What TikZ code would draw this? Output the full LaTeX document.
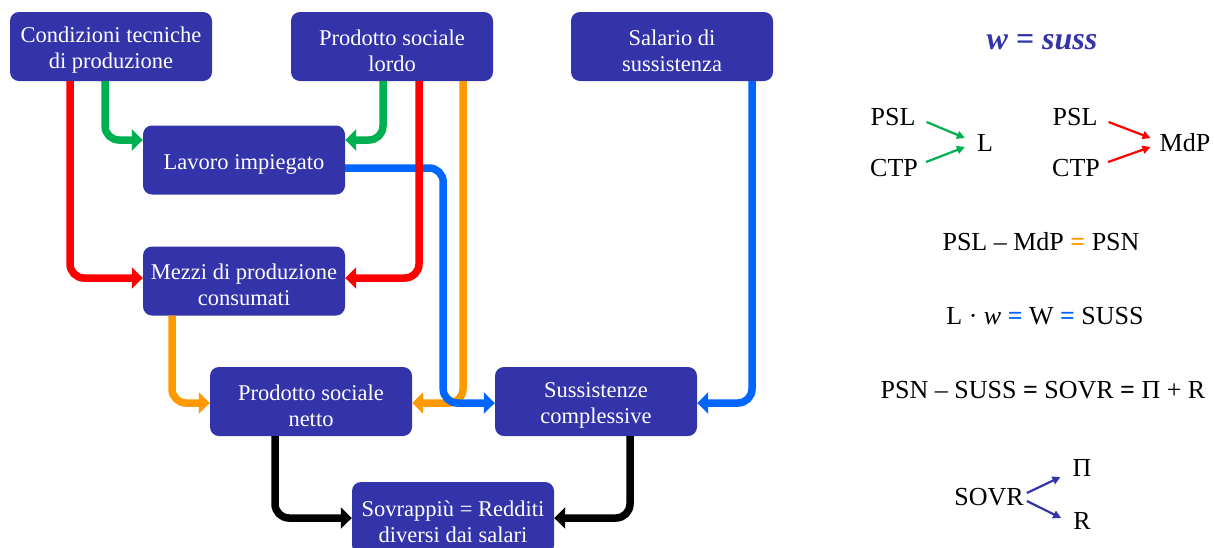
\documentclass[tikz,border=0pt]{standalone}
\usepackage{fontspec}
\setmainfont{Liberation Serif}
\usetikzlibrary{arrows.meta}
\definecolor{boxblue}{RGB}{51,51,170}
\definecolor{lgreen}{RGB}{0,176,80}
\definecolor{lorange}{RGB}{255,153,0}
\definecolor{lblue}{RGB}{0,102,255}
\newcommand{\topgap}{\rule{0pt}{23.5pt}}

\begin{document}
\begin{tikzpicture}[x=1pt,y=-1pt,
  box node/.style={rectangle,rounded corners=9pt,fill=boxblue,text=white,minimum width=202pt,minimum height=69pt,align=center,inner sep=2pt,font=\fontsize{22.5}{26}\selectfont},
  flow/.style={line width=7.5pt,rounded corners=14pt,-{Triangle[length=11pt,width=21pt]}},
  eq node/.style={inner sep=0pt,font=\fontsize{26}{28}\selectfont},
  small arrow/.style={line width=2.2pt,-{Triangle[length=8pt,width=8pt]}}]
  \useasboundingbox (0,0) rectangle (1214,547);

  % boxes
  \node[box node] (ctp) at (111,46.5) {\topgap Condizioni tecniche\\di produzione};
  \node[box node] (psl) at (392,46.5) {\topgap Prodotto sociale\\lordo};
  \node[box node] (sal) at (672,46.5) {\topgap Salario di\\sussistenza};
  \node[box node] (lav) at (244,160) {\rule{0pt}{23pt}Lavoro impiegato};
  \node[box node] (mez) at (244,281) {\topgap Mezzi di produzione\\consumati};
  \node[box node] (psn) at (311,401.5) {\topgap Prodotto sociale\\netto};
  \node[box node] (sus) at (596,401.5) {\topgap Sussistenze\\complessive};
  \node[box node,minimum height=72pt] (sov) at (453,518) {\topgap Sovrappiù = Redditi\\diversi dai salari};

  % flows
  \draw[flow,lorange] ([xshift=71pt]psl.south) |- ([yshift=-1.5pt]psn.east);
  \draw[flow,lorange] ([xshift=-72pt]mez.south) |- ([yshift=-1.5pt]psn.west);
  \draw[flow,lblue] ([yshift=-8pt]lav.east) -- ++(98,0) |- ([yshift=-1.5pt]sus.west);
  \draw[flow,lblue] ([xshift=80pt]sal.south) |- ([yshift=-1.5pt]sus.east);
  \draw[flow,red] ([xshift=-41pt]ctp.south) |- ([yshift=3pt]mez.west);
  \draw[flow,red] ([xshift=27pt]psl.south) |- ([yshift=3pt]mez.east);
  \draw[flow,lgreen] ([xshift=-6pt]ctp.south) |- ([yshift=20pt]lav.west);
  \draw[flow,lgreen] ([xshift=-9pt]psl.south) |- ([yshift=20pt]lav.east);
  \draw[flow,black] ([xshift=-36pt]psn.south) |- (sov.west);
  \draw[flow,black] ([xshift=34pt]sus.south) |- (sov.east);

  % right side
  \node[inner sep=0pt,text=boxblue,font=\fontsize{32}{34}\bfseries\itshape] (wsuss) at (1042,42) {w = suss};

  \node[eq node] (pslA) at (893,117) {PSL};
  \node[eq node] (ctpA) at (894,168) {CTP};
  \node[eq node] (lA) at (985,143) {L};
  \node[eq node] (pslB) at (1075,117) {PSL};
  \node[eq node] (ctpB) at (1076,168) {CTP};
  \node[eq node] (mdpB) at (1185,143) {MdP};
  \draw[small arrow,lgreen] ([xshift=11pt,yshift=-5pt]pslA.east) -- ([xshift=-12pt,yshift=5pt]lA.west);
  \draw[small arrow,lgreen] ([xshift=8pt,yshift=6pt]ctpA.east) -- ([xshift=-12pt,yshift=-4pt]lA.west);
  \draw[small arrow,red] ([xshift=11pt,yshift=-5pt]pslB.east) -- ([xshift=-9pt,yshift=5pt]mdpB.west);
  \draw[small arrow,red] ([xshift=8pt,yshift=6pt]ctpB.east) -- ([xshift=-9pt,yshift=-4pt]mdpB.west);

  \node[eq node] (eqa) at (1041,242) {PSL – MdP {\color{lorange}\textbf{=}} PSN};
  \node[eq node] (eqb) at (1045,316) {L · \textit{w} {\color{lblue}\textbf{=}} W {\color{lblue}\textbf{=}} SUSS};
  \node[eq node] (eqc) at (1043,390) {PSN – SUSS \textbf{=} SOVR \textbf{=} Π + R};

  \node[eq node] (sovr) at (989,497) {SOVR};
  \node[eq node] (pi) at (1082,468) {Π};
  \node[eq node] (r) at (1082,521) {R};
  \draw[small arrow,boxblue] ([xshift=3pt,yshift=4pt]sovr.east) -- ([xshift=-12pt,yshift=-9pt]pi.west);
  \draw[small arrow,boxblue] ([xshift=3pt,yshift=-4pt]sovr.east) -- ([xshift=-12pt,yshift=3pt]r.west);
\end{tikzpicture}
\end{document}
